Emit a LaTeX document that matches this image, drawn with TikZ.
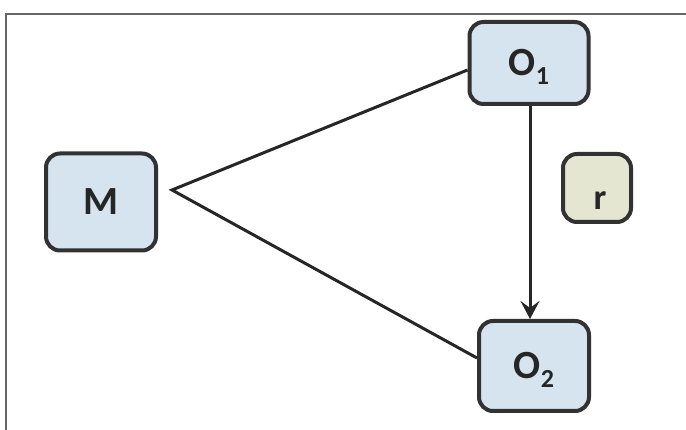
\documentclass[tikz,border=0pt]{standalone}
\usepackage{fontspec}
\setmainfont{Carlito}
\usepackage{xcolor}
\usetikzlibrary{arrows.meta, positioning}
\definecolor{boxblue}{RGB}{214,228,240}
\definecolor{boxsand}{RGB}{228,230,210}
\definecolor{edgegray}{RGB}{50,50,50}
\newcommand{\sub}[1]{{\fontsize{26}{26}\selectfont\raisebox{-9pt}[0pt][0pt]{#1}}}

\begin{document}
\begin{tikzpicture}[x=1pt, y=-1pt,
    box/.style={draw=edgegray, line width=4pt, rounded corners=14pt, fill=boxblue,
                font=\fontsize{40}{44}\selectfont\bfseries, text=black!85},
    link/.style={draw=black!85, line width=3pt}]
    \useasboundingbox (0,0) rectangle (686,430);
    % Frame
    \draw[gray!80!black, line width=1.2pt] (686,14) -- (6,14) -- (6,430);

    % Boxes
    \node[box, minimum width=110pt, minimum height=97pt] (m) at (101,202) {M};
    \node[box, minimum width=119pt, minimum height=82pt] (o1) at (529,63) {O\sub{1}};
    \node[box, minimum width=110pt, minimum height=90pt] (o2) at (534,366) {O\sub{2}};
    \node[box, fill=boxsand, minimum width=68pt, minimum height=68pt,
          font=\fontsize{36}{40}\selectfont\bfseries] (r) at (597,188)
          {\hspace{6pt}\raisebox{-22pt}[0pt][0pt]{r}};

    % Connectors
    \coordinate (apex) at (172,190);
    \draw[link] (o1.west |- 0,70) -- (apex) -- (o2.west |- 0,358);
    \draw[link, -{Stealth[length=18pt, width=19pt, inset=7pt]}] (o1.south -| 530,0) -- (o2.north -| 530,0);
\end{tikzpicture}
\end{document}
